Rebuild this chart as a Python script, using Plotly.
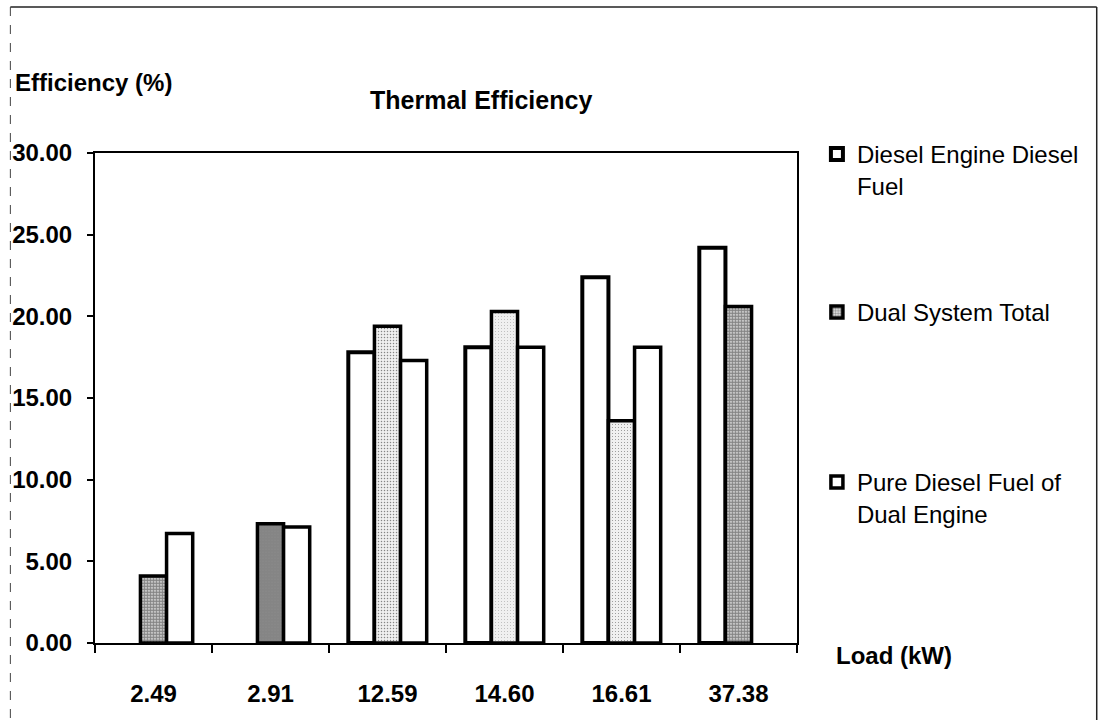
import plotly.graph_objects as go

# ---- data ----
loads = ["2.49", "2.91", "12.59", "14.60", "16.61", "37.38"]
diesel_engine = [None, None, 17.8, 18.1, 22.4, 24.2]
dual_total = [4.1, 7.3, 19.4, 20.3, 13.6, 20.6]
pure_diesel_dual = [6.7, 7.1, 17.3, 18.1, 18.1, None]

series_names = ["Diesel Engine Diesel<br>Fuel", "Dual System Total",
                "Pure Diesel Fuel of<br>Dual Engine"]
title_text = "Thermal Efficiency"
y_title = "Efficiency (%)"
x_title = "Load (kW)"

# stipple density of the shaded series (style, per bar)
dual_solidity = [0.75, 0.9, 0.2, 0.05, 0.1, 0.75]

FONT = "Liberation Sans, Arial, sans-serif"

# plot area in pixels (for placing free text)
L, R, T, B = 92, 797, 153, 643
W, H = R - L, B - T


def px(x):
    return (x - L) / W


def py(y):
    return (B - y) / H


fig = go.Figure()
fig.add_trace(go.Bar(
    x=loads, y=diesel_engine, name=series_names[0],
    marker=dict(color="white", line=dict(color="black", width=4)),
    legend="legend",
))
fig.add_trace(go.Bar(
    x=loads, y=dual_total, name=series_names[1],
    marker=dict(color="white", line=dict(color="black", width=3.5),
                pattern=dict(shape=".", fgcolor="#1a1a1a", bgcolor="#f0f0f0",
                             size=3, solidity=dual_solidity)),
    legend="legend2",
))
fig.add_trace(go.Bar(
    x=loads, y=pure_diesel_dual, name=series_names[2],
    marker=dict(color="white", line=dict(color="black", width=3.5)),
    legend="legend3",
))

legend_common = dict(
    xanchor="left", yanchor="top", bgcolor="rgba(0,0,0,0)",
    font=dict(family=FONT, size=24, color="black"),
    valign="top", itemwidth=30, tracegroupgap=0,
)

fig.update_layout(
    width=1103, height=720,
    margin=dict(l=L, r=1103 - R, t=T, b=720 - B, pad=0),
    paper_bgcolor="white", plot_bgcolor="white",
    barmode="group", bargap=0.33, bargroupgap=0,
    font=dict(family=FONT, size=24, color="black"),
    showlegend=True,
    legend=dict(x=px(817), y=py(132), **legend_common),
    legend2=dict(x=px(817), y=py(290), **legend_common),
    legend3=dict(x=px(817), y=py(460), **legend_common),
    xaxis=dict(
        type="category", showline=True, linecolor="black", linewidth=2,
        mirror=True, ticks="outside", tickson="boundaries", ticklen=8,
        tickwidth=1.5, tickcolor="black", showgrid=False,
        tickfont=dict(family=FONT, size=24, color="black", weight="bold"),
        ticklabelstandoff=28,
    ),
    yaxis=dict(
        range=[0, 30], dtick=5, tickformat=".2f", showline=True,
        linecolor="black", linewidth=2, mirror=True, ticks="outside",
        ticklen=6, tickwidth=1.5, tickcolor="black", showgrid=False,
        zeroline=False,
        tickfont=dict(family=FONT, size=24, color="black", weight="bold"),
        ticklabelstandoff=10,
    ),
    annotations=[
        dict(text=title_text, x=px(480), y=py(100), xref="paper", yref="paper",
             showarrow=False, xanchor="center", yanchor="middle",
             font=dict(family=FONT, size=25, color="black", weight="bold")),
        dict(text=y_title, x=px(10), y=py(82), xref="paper", yref="paper",
             showarrow=False, xanchor="left", yanchor="middle",
             font=dict(family=FONT, size=24, color="black", weight="bold")),
        dict(text=x_title, x=px(834), y=py(655), xref="paper", yref="paper",
             showarrow=False, xanchor="left", yanchor="middle",
             font=dict(family=FONT, size=24, color="black", weight="bold")),
    ],
    shapes=[
        dict(type="line", xref="paper", yref="paper", x0=px(7), x1=px(1098),
             y0=py(7), y1=py(7), line=dict(color="#222", width=1.5)),
        dict(type="line", xref="paper", yref="paper", x0=px(1098), x1=px(1098),
             y0=py(7), y1=py(725), line=dict(color="#222", width=1.5)),
        dict(type="line", xref="paper", yref="paper", x0=px(7), x1=px(7),
             y0=py(7), y1=py(725), line=dict(color="#444", width=1, dash="dash")),
    ],
)

fig.write_html("out.html")
